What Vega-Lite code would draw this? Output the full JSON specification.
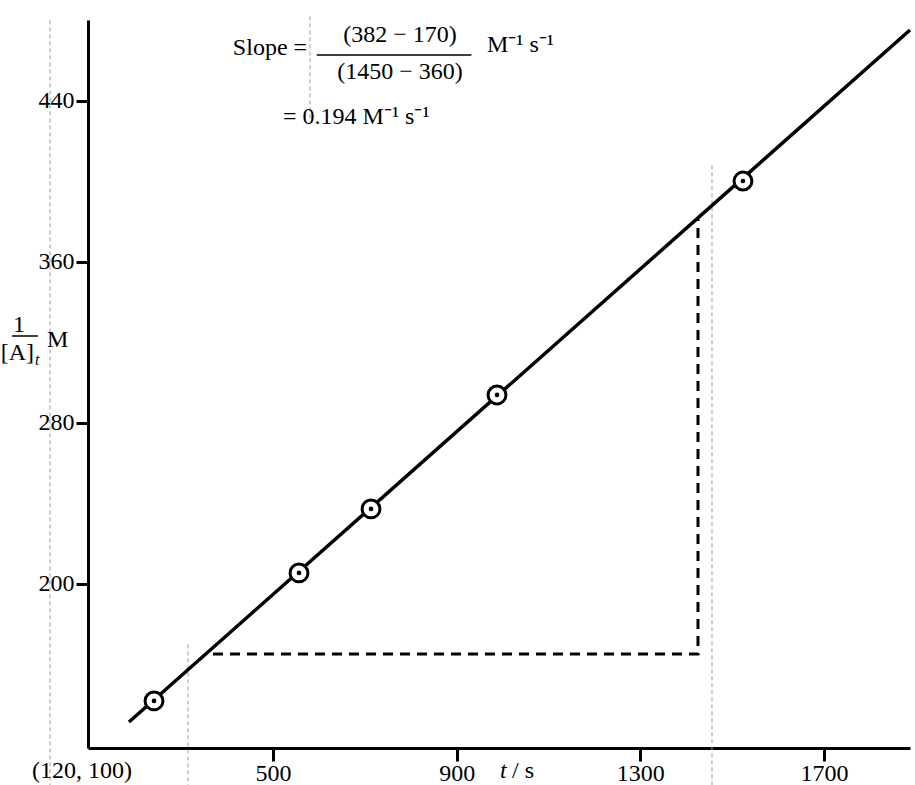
{
  "$schema": "https://vega.github.io/schema/vega-lite/v6.json",
  "width": 822,
  "height": 728,
  "autosize": "none",
  "padding": {"left": 88, "top": 20, "right": 5, "bottom": 37},
  "background": "white",
  "config": {"view": {"stroke": null}},
  "datasets": {
    "pts": [{"x": 240.5, "y": 141.9}, {"x": 556.4, "y": 205.5}, {"x": 713.3, "y": 237.3}, {"x": 987.8, "y": 293.9}, {"x": 1523.7, "y": 400.2}],
    "fit": [{"x": 186, "y": 131.4}, {"x": 1887.6, "y": 475.2}],
    "tri": [{"x": 369, "y": 165.2, "i": 1}, {"x": 1425.7, "y": 165.2, "i": 2}, {"x": 1425.7, "y": 382.3, "i": 3}],
    "scan": [{"x": 14, "y": 480, "y2": 100}, {"x": 314.6, "y": 170, "y2": 100}, {"x": 1456.2, "y": 408, "y2": 100}, {"x": 580.4, "y": 482, "y2": 430}],
    "bars": [{"x": 595, "x2": 932, "y": 462.8}, {"x": -68.8, "x2": -12.2, "y": 323.2}],
    "tcenter": [{"x": 776.5, "y": 472.7, "t": "(382 − 170)"}, {"x": 776.5, "y": 454.3, "t": "(1450 − 360)"}, {"x": 83.7, "y": 107, "t": "(120, 100)"}, {"x": -53.6, "y": 328.7, "t": "1"}],
    "tleft": [{"x": 966, "y": 467.8, "t": "M⁻¹ s⁻¹"}, {"x": 521.6, "y": 432, "t": "= 0.194 M⁻¹ s⁻¹"}, {"x": 1020.5, "y": 107, "t": "/ s"}, {"x": 7.4, "y": 321.2, "t": "M"}],
    "tright": [{"x": 574, "y": 466.3, "t": "Slope ="}, {"x": -20.9, "y": 314.8, "t": "[A]"}],
    "titalic": [{"x": 994.3, "y": 107, "t": "t"}],
    "tsub": [{"x": -18.7, "y": 311.5, "t": "t"}]
  },
  "encoding": {
    "x": {
      "field": "x", "type": "quantitative",
      "scale": {"domain": [96.7, 1887.6], "nice": false, "zero": false},
      "axis": {"values": [500, 900, 1300, 1700], "format": "d", "title": null, "grid": false,
        "labelFont": "Liberation Serif", "labelFontSize": 24, "labelColor": "black",
        "tickColor": "black", "tickWidth": 3, "tickSize": 13, "domainColor": "black", "domainWidth": 3,
        "labelPadding": 0, "labelFlush": false, "labelOverlap": false}
    },
    "y": {
      "field": "y", "type": "quantitative",
      "scale": {"domain": [118.5, 480.2], "nice": false, "zero": false},
      "axis": {"values": [200, 280, 360, 440], "title": null, "grid": false,
        "labelFont": "Liberation Serif", "labelFontSize": 24, "labelColor": "black",
        "tickColor": "black", "tickWidth": 3, "tickSize": 12, "domainColor": "black", "domainWidth": 3,
        "labelPadding": 2, "labelOverlap": false}
    }
  },
  "layer": [
    {"data": {"name": "scan"}, "mark": {"type": "rule", "color": "#9a9a9a", "strokeWidth": 1, "strokeDash": [4, 3]},
     "encoding": {"y2": {"field": "y2"}}},
    {"data": {"name": "tri"}, "mark": {"type": "line", "color": "black", "strokeWidth": 3, "strokeDash": [10, 7]},
     "encoding": {"order": {"field": "i", "type": "quantitative"}}},
    {"data": {"name": "fit"}, "mark": {"type": "line", "color": "black", "strokeWidth": 3.5}, "encoding": {}},
    {"data": {"name": "pts"}, "mark": {"type": "point", "shape": "circle", "filled": true, "fill": "white", "stroke": "black", "strokeWidth": 3, "size": 320, "opacity": 1}, "encoding": {}},
    {"data": {"name": "pts"}, "mark": {"type": "point", "shape": "circle", "filled": true, "color": "black", "size": 22, "opacity": 1}, "encoding": {}},
    {"data": {"name": "bars"}, "mark": {"type": "rule", "color": "black", "strokeWidth": 1.5},
     "encoding": {"x2": {"field": "x2"}}},
    {"data": {"name": "tcenter"}, "mark": {"type": "text", "font": "Liberation Serif", "fontSize": 24, "color": "black", "align": "center", "baseline": "middle"},
     "encoding": {"text": {"field": "t"}}},
    {"data": {"name": "tleft"}, "mark": {"type": "text", "font": "Liberation Serif", "fontSize": 24, "color": "black", "align": "left", "baseline": "middle"},
     "encoding": {"text": {"field": "t"}}},
    {"data": {"name": "tright"}, "mark": {"type": "text", "font": "Liberation Serif", "fontSize": 24, "color": "black", "align": "right", "baseline": "middle"},
     "encoding": {"text": {"field": "t"}}},
    {"data": {"name": "titalic"}, "mark": {"type": "text", "font": "Liberation Serif", "fontSize": 24, "fontStyle": "italic", "color": "black", "align": "left", "baseline": "middle"},
     "encoding": {"text": {"field": "t"}}},
    {"data": {"name": "tsub"}, "mark": {"type": "text", "font": "Liberation Serif", "fontSize": 16, "fontStyle": "italic", "color": "black", "align": "left", "baseline": "middle"},
     "encoding": {"text": {"field": "t"}}}
  ]
}
